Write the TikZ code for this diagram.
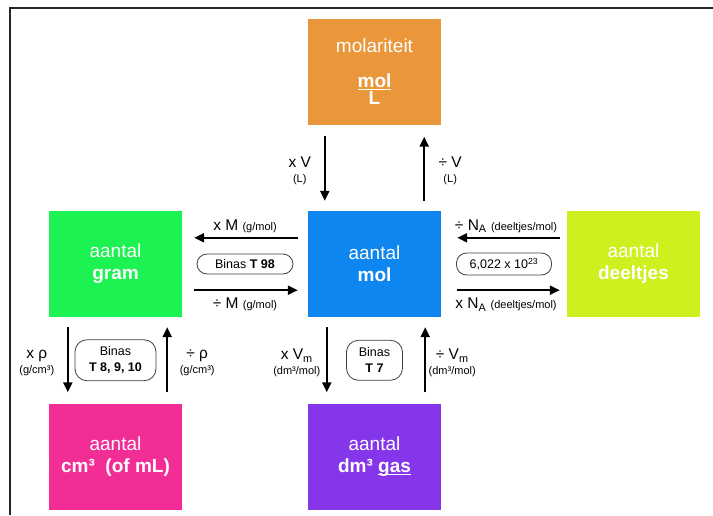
\documentclass[tikz,border=0pt]{standalone}
\usepackage{fontspec}
\setmainfont{Liberation Sans}
\usetikzlibrary{matrix,calc,arrows.meta}

\definecolor{oranje}{RGB}{234,150,58}
\definecolor{blauw}{RGB}{14,134,240}
\definecolor{groen}{RGB}{28,242,82}
\definecolor{limoen}{RGB}{205,240,30}
\definecolor{roze}{RGB}{242,45,150}
\definecolor{paars}{RGB}{134,54,234}

\newcommand{\eenh}[1]{{\fontsize{11}{12}\selectfont #1}}
\newcommand{\onderstreep}[1]{\setbox0=\hbox{#1}\rlap{\smash{\rule[-3pt]{\wd0}{1.5pt}}}\box0}

\begin{document}
\begin{tikzpicture}[x=1pt,y=-1pt,
            vak/.style={minimum width=133pt, minimum height=106pt, inner sep=0pt,
                text=white, align=center, font=\fontsize{19}{22}\selectfont},
            pijl/.style={line width=2pt, -{Triangle[length=10pt,width=9pt]}},
            lbl/.style={inner sep=0pt, align=center, font=\fontsize{15.5}{15}\selectfont},
            vlbl/.style={lbl, midway, yshift=-3pt},
            binas/.style={draw=black!75, line width=.8pt, fill=white, inner sep=0pt,
                align=center, font=\fontsize{12.5}{16}\selectfont}]

            \useasboundingbox (0,0) rectangle (713,515);
            \draw[line width=2pt, black!85] (10,515) |- (713,8);

            \matrix (m) [column sep=126pt, row sep=86.5pt] at (374.5,264)
            {
                & \node[vak, fill=oranje] (molar) {molariteit\\[13pt]\onderstreep{\textbf{mol}}\\[-4.5pt]\textbf{L}}; & \\
                \node[vak, fill=groen] (gram) {aantal\\\textbf{gram}}; &
                \node[vak, fill=blauw] (mol) {aantal\\\textbf{mol}}; &
                \node[vak, fill=limoen] (deeltjes) {aantal\\\textbf{deeltjes}}; \\
                \node[vak, fill=roze] (cm3) {aantal\\\textbf{cm³\ \ (of mL)}}; &
                \node[vak, fill=paars] (dm3) {aantal\\\textbf{dm³ \onderstreep{gas}}}; & \\
            };

            % molariteit <-> mol
            \draw[pijl, shorten <=11pt, shorten >=10pt] ([xshift=17pt]molar.south west) -- ([xshift=17pt]mol.north west)
                node[vlbl, xshift=-25pt] (xV) {x V\\\eenh{(L)}};
            \draw[pijl, shorten <=10pt, shorten >=12pt] ([xshift=-17pt]mol.north east) -- ([xshift=-17pt]molar.south east)
                node[vlbl, xshift=26pt] (dV) {÷ V\\\eenh{(L)}};

            % gram <-> mol
            \draw[pijl, shorten <=10pt, shorten >=12pt] ([yshift=-27pt]mol.north west) -- ([yshift=-27pt]gram.north east)
                node[lbl, midway, above=4pt] (xM) {x M \eenh{(g/mol)}};
            \draw[pijl, shorten <=12pt, shorten >=10pt] ([yshift=27pt]gram.south east) -- ([yshift=27pt]mol.south west)
                node[lbl, midway, below=7pt] (dM) {÷ M \eenh{(g/mol)}};

            % mol <-> deeltjes
            \draw[pijl, shorten <=7pt, shorten >=16pt] ([yshift=-27pt]deeltjes.north west) -- ([yshift=-27pt]mol.north east)
                node[lbl, midway, above=4pt, xshift=2pt] (dNA) {÷ N\textsubscript{A} \eenh{(deeltjes/mol)}};
            \draw[pijl, shorten <=16pt, shorten >=7pt] ([yshift=27pt]mol.south east) -- ([yshift=27pt]deeltjes.south west)
                node[lbl, midway, below=7pt, xshift=2pt] (xNA) {x N\textsubscript{A} \eenh{(deeltjes/mol)}};

            % gram <-> cm3
            \draw[pijl, shorten <=10pt, shorten >=11pt] ([xshift=19pt]gram.south west) -- ([xshift=19pt]cm3.north west)
                node[vlbl, xshift=-31pt] (xrho) {x ρ\\\eenh{(g/cm³)}};
            \draw[pijl, shorten <=11pt, shorten >=10pt] ([xshift=-15pt]cm3.north east) -- ([xshift=-15pt]gram.south east)
                node[vlbl, xshift=30pt] (drho) {÷ ρ\\\eenh{(g/cm³)}};

            % mol <-> dm3
            \draw[pijl, shorten <=10pt, shorten >=11pt] ([xshift=19pt]mol.south west) -- ([xshift=19pt]dm3.north west)
                node[vlbl, xshift=-30pt] (xVm) {x V\textsubscript{m}\\\eenh{(dm³/mol)}};
            \draw[pijl, shorten <=11pt, shorten >=10pt] ([xshift=-16pt]dm3.north east) -- ([xshift=-16pt]mol.south east)
                node[vlbl, xshift=27pt] (dVm) {÷ V\textsubscript{m}\\\eenh{(dm³/mol)}};

            % Binas
            \node[binas, rounded corners=10pt, minimum width=96pt, minimum height=20pt] (binas98) at ($(gram.east)!.5!(mol.west)$) {Binas \textbf{T 98}};
            \node[binas, rounded corners=10pt, minimum width=95pt, minimum height=22pt] (avogadro) at ($(mol.east)!.5!(deeltjes.west)$) {6,022 x 10\textsuperscript{23}};
            \node[binas, rounded corners=12pt, minimum width=81pt, minimum height=41pt] (binas8) at ($(gram.south)!.5!(cm3.north)$) {Binas\\\textbf{T 8, 9, 10}};
            \node[binas, rounded corners=12pt, minimum width=56pt, minimum height=40pt] (binas7) at ($(mol.south)!.5!(dm3.north)$) {Binas\\\textbf{T 7}};

\end{tikzpicture}
\end{document}
